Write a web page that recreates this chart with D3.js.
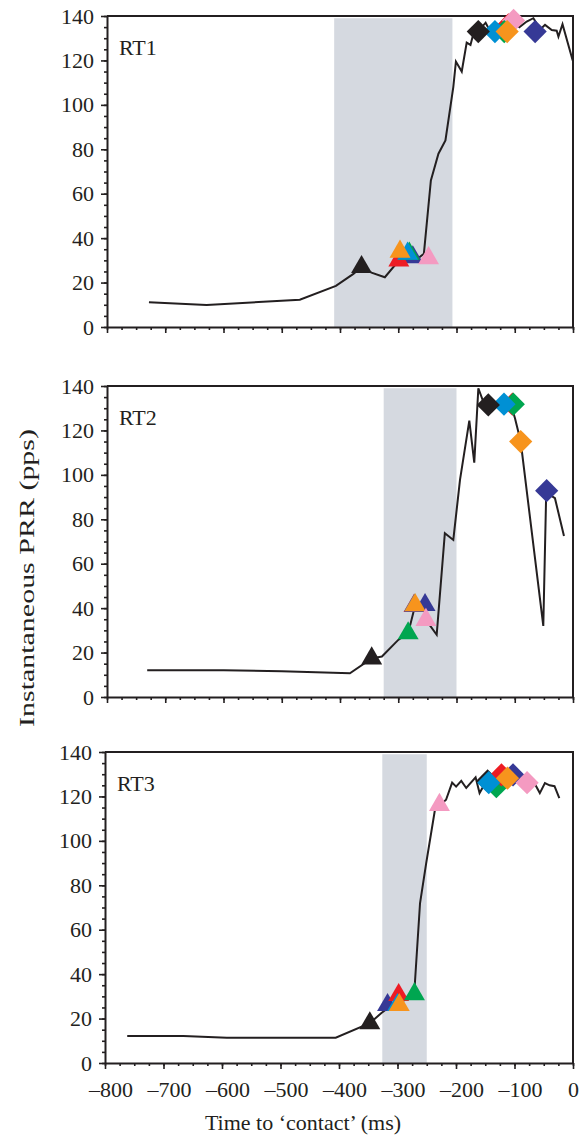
<!DOCTYPE html>
<html>
<head>
<meta charset="utf-8">
<script src="https://cdn.jsdelivr.net/npm/d3@7"></script>
<style>
  body { margin: 0; background: #fff; }
  svg { display: block; }
  text { font-family: "Liberation Serif", "Times New Roman", serif; fill: #231f20; }
</style>
</head>
<body>
<svg width="584" height="1139"></svg>
<script>
// panel names and shaded windows (ms)
const panelNames = ['RT1', 'RT2', 'RT3'];
const shadeWindows = [[-410, -207], [-325, -200], [-326, -250]];

const xTicks = d3.range(-800, 1, 100);
const yTicks = d3.range(0, 141, 20);

// marker colours
const colors = {
  black: '#231f20', red: '#ed1c24', navy: '#363996', green: '#00a650',
  cyan: '#0090d4', orange: '#f7941d', pink: '#f49ac1'
};

// instantaneous PRR traces: [time (ms), rate (pps)]
const rt1Line = [[-728, 11.1], [-629, 9.9], [-469, 12.3], [-407, 18.5], [-377, 23.9], [-363, 27], [-346, 24.5],
  [-323, 22.4], [-303, 28.7], [-285, 31], [-268, 30.5], [-256, 33], [-244, 66], [-231, 78], [-219, 84],
  [-205.5, 108], [-201, 119.5], [-191, 115], [-182.5, 128], [-176, 127], [-170, 133], [-163, 133], [-150, 137],
  [-140, 132], [-128, 136], [-118, 134], [-105, 138], [-92, 135], [-79.5, 137.5], [-68, 139], [-56, 134],
  [-48, 136], [-36.5, 133.7], [-28, 133.4], [-25, 130.7], [-18, 136.3], [-0.5, 120]];
const rt2Line = [[-731, 12], [-600, 12], [-500, 11.6], [-383, 10.7], [-345.6, 17.4], [-328, 18.2], [-300, 25.7],
  [-283, 28.7], [-274.5, 37.6], [-271, 41.4], [-262, 41], [-254, 40], [-252.5, 34.7], [-234, 28], [-220, 73.7],
  [-205.5, 70.7], [-194, 97.7], [-178, 124.4], [-169.5, 105.5], [-162.5, 139], [-152, 131.5], [-145.4, 131.5],
  [-130, 132], [-118.5, 131.8], [-102.5, 128], [-99.6, 125.5], [-89.8, 115], [-51, 32], [-46, 92],
  [-31, 89.5], [-15.5, 72.5]];
const rt3Line = [[-762, 12.2], [-666, 12.2], [-591.6, 11.4], [-471.6, 11.4], [-405.6, 11.4], [-347.3, 17.9],
  [-328, 22.4], [-310, 26], [-290, 28], [-271, 33], [-261.5, 71.9], [-251, 89.9], [-236, 114], [-217, 118.5],
  [-206.6, 126.2], [-199.8, 124.4], [-191, 127], [-182.5, 123.8], [-166.5, 128.6], [-159.7, 121.5], [-150, 126],
  [-140, 124], [-130, 128], [-120, 125], [-110, 129], [-100, 127], [-90, 129], [-80, 126], [-70, 128],
  [-56.7, 121.5], [-48, 126], [-40, 125], [-31.6, 124.6], [-23.4, 119.2]];

// triangles (onset) and diamonds (peak), in drawing order: [colour, time, rate]
const rt1Triangles = [['navy', -275, 31.4], ['red', -299, 30], ['green', -281, 33], ['cyan', -284, 33],
  ['orange', -297, 33.9], ['pink', -248, 31], ['black', -363, 27]];
const rt1Diamonds = [['red', -111, 136], ['pink', -102, 138], ['green', -118, 133], ['cyan', -134, 133],
  ['orange', -113, 133], ['black', -162.6, 133], ['navy', -65, 133]];
const rt2Triangles = [['navy', -254, 41.4], ['red', -273, 41], ['cyan', -272, 41.2], ['orange', -271, 41.4],
  ['pink', -252.5, 34.7], ['green', -283, 28.7], ['black', -345.6, 17.4]];
const rt2Diamonds = [['red', -104, 131.8], ['green', -102.5, 131.8], ['cyan', -118.5, 131.8],
  ['black', -145.4, 131.5], ['orange', -89.8, 115], ['navy', -45.2, 92.9]];
const rt3Triangles = [['navy', -317, 26.1], ['red', -298, 30.6], ['cyan', -300, 26.1], ['orange', -297, 26.1],
  ['green', -271, 31], ['black', -347.3, 17.9], ['pink', -228.3, 116.2]];
const rt3Diamonds = [['black', -146, 127], ['green', -131, 124.4], ['red', -122.3, 129.7], ['navy', -102.5, 129.7],
  ['cyan', -144, 126.2], ['orange', -112, 128.2], ['pink', -78.5, 126.2]];

const lines = [rt1Line, rt2Line, rt3Line];
const triangles = [rt1Triangles, rt2Triangles, rt3Triangles];
const diamonds = [rt1Diamonds, rt2Diamonds, rt3Diamonds];

// layout of each panel
const tops = [16, 386, 752];
const bottoms = [327, 697, 1063];
const lefts = [107, 107, 105];
const right = 573;

const svg = d3.select('svg');
const fmt = d => d < 0 ? '–' + Math.abs(d) : String(d);
const triSym = d3.symbol(d3.symbolTriangle, 190);
const diaSym = d3.symbol(d3.symbolSquare, 270);

panelNames.forEach((name, i) => {
  let x = d3.scaleLinear().domain([-800, 0]).range([lefts[i], right]);
  let y = d3.scaleLinear().domain([0, 140]).range([bottoms[i], tops[i]]);
  let g = svg.append('g').attr('id', name);

  // shaded window
  g.append('rect')
    .attr('x', x(shadeWindows[i][0]))
    .attr('y', y(139))
    .attr('width', x(shadeWindows[i][1]) - x(shadeWindows[i][0]))
    .attr('height', y(0) - y(139))
    .attr('fill', '#d5d9e0');

  // frame top + right
  g.append('path')
    .attr('d', `M${x(-800)},${y(140)}H${x(0)}V${y(0)}`)
    .attr('fill', 'none').attr('stroke', '#231f20').attr('stroke-width', 2);

  // minor ticks
  g.append('g').attr('transform', translate(0, y(0)))
    .call(d3.axisBottom(x).tickValues(d3.range(-800, 1, 25)).tickSize(3).tickSizeOuter(0).tickFormat(''))
    .call(a => a.select('.domain').remove());
  g.append('g').attr('transform', translate(x(-800), 0))
    .call(d3.axisLeft(y).tickValues(d3.range(0, 141, 5)).tickSize(3).tickSizeOuter(0).tickFormat(''))
    .call(a => a.select('.domain').remove());

  // major axes
  let xAxis = g.append('g').attr('transform', translate(0, y(0)))
    .call(d3.axisBottom(x).tickValues(xTicks).tickSize(6).tickSizeOuter(0).tickPadding(12)
      .tickFormat(i === 2 ? fmt : ''));
  let yAxis = g.append('g').attr('transform', translate(x(-800), 0))
    .call(d3.axisLeft(y).tickValues(yTicks).tickSize(6).tickSizeOuter(0).tickPadding(7));

  [xAxis, yAxis].forEach(a => {
    a.select('.domain').attr('stroke', '#231f20').attr('stroke-width', 2);
    a.selectAll('text').attr('font-size', 22).attr('font-family', null).style('fill', '#231f20');
  });
  xAxis.selectAll('text').attr('dx', d => d < 0 ? '0.25em' : 0);
  g.selectAll('.tick line').attr('stroke', '#231f20').attr('stroke-width', 1.6);

  // trace
  let line = d3.line().x(d => x(d[0])).y(d => y(d[1]));
  g.append('path')
    .datum(lines[i])
    .attr('d', line)
    .attr('fill', 'none')
    .attr('stroke', '#231f20')
    .attr('stroke-width', 2)
    .attr('stroke-linejoin', 'miter');

  // markers
  g.selectAll('path.tri')
    .data(triangles[i])
    .enter().append('path')
    .attr('class', 'tri')
    .attr('d', triSym)
    .attr('transform', d => translate(x(d[1]), y(d[2])))
    .attr('fill', d => colors[d[0]]);

  g.selectAll('path.dia')
    .data(diamonds[i])
    .enter().append('path')
    .attr('class', 'dia')
    .attr('d', diaSym)
    .attr('transform', d => translate(x(d[1]), y(d[2])) + ' rotate(45)')
    .attr('fill', d => colors[d[0]]);

  // panel label
  g.append('text')
    .attr('x', lefts[i] + 12)
    .attr('y', tops[i] + 39)
    .attr('font-size', 22)
    .text(name);
});

// axis titles
svg.append('text')
  .attr('x', 303)
  .attr('y', 1130)
  .attr('text-anchor', 'middle')
  .attr('font-size', 22)
  .text('Time to ‘contact’ (ms)');

svg.append('text')
  .attr('transform', translate(34, 578) + ' rotate(-90)')
  .attr('text-anchor', 'middle')
  .attr('font-size', 22)
  .attr('textLength', 298)
  .attr('lengthAdjust', 'spacingAndGlyphs')
  .text('Instantaneous PRR (pps)');

function translate(x, y) {
  return `translate(${x},${y})`;
}
</script>
</body>
</html>
